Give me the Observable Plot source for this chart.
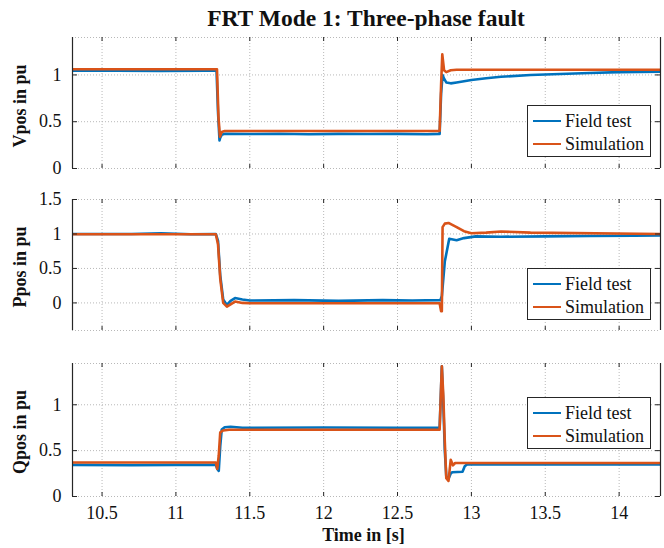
<!DOCTYPE html>
<html><head><meta charset="utf-8">
<script src="https://cdn.jsdelivr.net/npm/d3@7"></script>
<script src="https://cdn.jsdelivr.net/npm/@observablehq/plot@0.6"></script>
<style>
body{margin:0;background:#fff;}
#wrap{position:relative;width:664px;height:548px;font-family:"Liberation Serif",serif;color:#111;}
#title{position:absolute;left:68px;right:0;top:0;height:36px;line-height:37px;text-align:center;font-weight:bold;font-size:23.5px;font-family:"Liberation Serif",serif;}
.panel{position:absolute;left:0;}
.panel svg{overflow:visible;}
.panel svg, .panel svg text{font-family:"Liberation Serif",serif !important;}
.legend{position:absolute;left:527px;width:122px;height:50px;border:1px solid #262626;background:#fff;font-size:18px;font-family:"Liberation Serif",serif;}
.legend .row{position:absolute;left:0;height:22px;display:flex;align-items:center;}
.legend .sw{width:28px;height:2.5px;margin-left:5px;margin-right:4px;}
</style></head>
<body><div id="wrap"><div id="title">FRT Mode 1: Three-phase fault</div></div>
<script>
// ---- data ----
const xTicks = [10.5, 11, 11.5, 12, 12.5, 13, 13.5, 14];
const xDomain = [10.3, 14.28];
const seriesNames = ["Field test", "Simulation"];
const seriesColors = ["#0072BD", "#D95319"];

// Panel 1: Vpos
const vTicks = [0, 0.5, 1];
const vDomain = [0, 1.4];
const vFieldT = [10.3, 10.6, 10.9, 11.2, 11.275, 11.285, 11.295, 11.3, 11.31, 11.33, 11.5, 11.7, 11.9, 12.1, 12.3, 12.5, 12.7, 12.785, 12.795, 12.805, 12.815, 12.83, 12.86, 12.9, 13.0, 13.1, 13.2, 13.4, 13.6, 13.8, 14.0, 14.28];
const vFieldV = [1.045, 1.045, 1.043, 1.045, 1.045, 0.6, 0.30, 0.33, 0.36, 0.37, 0.368, 0.372, 0.366, 0.37, 0.368, 0.37, 0.366, 0.37, 0.8, 1.0, 0.96, 0.92, 0.91, 0.92, 0.945, 0.965, 0.98, 1.0, 1.01, 1.02, 1.03, 1.035];
const vSimT = [10.3, 11.278, 11.288, 11.298, 11.31, 11.33, 12.785, 12.795, 12.803, 12.815, 12.83, 12.86, 12.9, 14.28];
const vSimV = [1.06, 1.06, 0.55, 0.34, 0.39, 0.40, 0.40, 0.9, 1.22, 1.05, 1.03, 1.05, 1.055, 1.055];

// Panel 2: Ppos
const pTicks = [0, 0.5, 1, 1.5];
const pDomain = [-0.4, 1.5];
const pFieldT = [10.3, 10.7, 10.9, 11.1, 11.27, 11.285, 11.3, 11.32, 11.345, 11.37, 11.4, 11.45, 11.5, 11.8, 12.1, 12.4, 12.6, 12.79, 12.8, 12.82, 12.85, 12.9, 12.95, 13.03, 13.2, 13.5, 13.8, 14.1, 14.28];
const pFieldV = [1.0, 1.0, 1.01, 0.995, 1.0, 0.9, 0.4, 0.05, -0.03, 0.03, 0.07, 0.05, 0.035, 0.04, 0.03, 0.04, 0.035, 0.04, 0.1, 0.6, 0.93, 0.91, 0.94, 0.965, 0.96, 0.965, 0.97, 0.975, 0.98];
const pSimT = [10.3, 11.27, 11.285, 11.3, 11.32, 11.345, 11.37, 11.4, 11.45, 11.5, 12.785, 12.795, 12.8, 12.805, 12.82, 12.845, 12.9, 12.95, 13.0, 13.1, 13.2, 13.4, 14.28];
const pSimV = [0.995, 0.995, 0.85, 0.35, 0.0, -0.055, -0.02, 0.02, 0.0, -0.005, -0.005, -0.12, -0.12, 1.10, 1.15, 1.16, 1.10, 1.04, 1.01, 1.02, 1.035, 1.02, 1.0];

// Panel 3: Qpos
const qTicks = [0, 0.5, 1];
const qDomain = [0, 1.45];
const qFieldT = [10.3, 10.7, 11.0, 11.27, 11.28, 11.29, 11.3, 11.31, 11.33, 11.37, 11.45, 12.0, 12.5, 12.785, 12.795, 12.8, 12.81, 12.82, 12.83, 12.845, 12.86, 12.87, 12.94, 12.955, 12.97, 14.28];
const qFieldV = [0.345, 0.34, 0.345, 0.345, 0.30, 0.28, 0.55, 0.73, 0.755, 0.76, 0.75, 0.752, 0.75, 0.75, 1.2, 1.42, 1.0, 0.5, 0.22, 0.19, 0.25, 0.265, 0.27, 0.33, 0.35, 0.35];
const qSimT = [10.3, 11.27, 11.28, 11.29, 11.3, 11.32, 11.36, 11.5, 12.785, 12.795, 12.8, 12.81, 12.82, 12.83, 12.845, 12.86, 12.875, 12.89, 14.28];
const qSimV = [0.37, 0.37, 0.30, 0.45, 0.70, 0.72, 0.728, 0.728, 0.728, 1.2, 1.42, 1.1, 0.6, 0.2, 0.17, 0.40, 0.34, 0.365, 0.365];

// ---- drawing ----
const W = 664, ML = 72, MR = 4;
const FONT = '"Liberation Serif", serif';
const wrap = document.getElementById("wrap");
const rows = (ts, vs) => ts.map((t, i) => ({t, v: vs[i]}));
const fmt = d => String(d);

function panel({top, height, mt, mb, yDomain, yTicks, yLabel, field, sim, showX, legendTop, labelDy}) {
  const PW = W - ML - MR, PH = height - mt - mb;
  const grid = {stroke: "#b8b8b8", strokeOpacity: 1, strokeDasharray: "1,2"};
  const marks = [
    Plot.gridX(xTicks, grid),
    Plot.gridY(yTicks, grid),
    Plot.ruleY([yDomain[1]], grid),
    Plot.ruleY([yDomain[0]], grid),
    Plot.line(field, {x: "t", y: "v", stroke: seriesColors[0], strokeWidth: 2.6, clip: true}),
    Plot.line(sim, {x: "t", y: "v", stroke: seriesColors[1], strokeWidth: 2.6, clip: true}),
    Plot.ruleX([xDomain[0]], {stroke: "#262626", strokeWidth: 1.2}),
    Plot.ruleX([xDomain[1]], {stroke: "#262626", strokeWidth: 1.2}),
    Plot.tickY(yTicks, {y: d => d, insetRight: PW - 5, stroke: "#262626"}),
    Plot.tickY(yTicks, {y: d => d, insetLeft: PW - 5, stroke: "#262626"}),
    Plot.tickX(xTicks, {x: d => d, insetTop: PH - 4, stroke: "#262626"}),
    Plot.tickX(xTicks, {x: d => d, insetBottom: PH - 4, stroke: "#262626"}),
    Plot.text([yLabel], {text: d => d, frameAnchor: "left", textAnchor: "middle", lineAnchor: "middle", dx: -52, dy: labelDy, rotate: -90, fontWeight: "bold", fontSize: 18, fill: "#111", fontFamily: FONT})
  ];
  if (showX) marks.push(Plot.text(["Time in [s]"], {text: d => d, frameAnchor: "bottom", dx: -3, dy: 44, fontWeight: "bold", fontSize: 18, fill: "#111", fontFamily: FONT}));
  const chart = Plot.plot({
    width: W, height, marginLeft: ML, marginRight: MR, marginTop: mt, marginBottom: mb,
    style: {fontFamily: FONT, fontSize: "18px", color: "#111", background: "#fff", overflow: "visible"},
    x: {domain: xDomain, ticks: xTicks, tickSize: 0, tickPadding: 10, tickFormat: fmt, label: null, axis: showX ? "bottom" : null},
    y: {domain: yDomain, ticks: yTicks, tickSize: 0, tickPadding: 11, tickFormat: fmt, label: null},
    marks
  });
  const div = document.createElement("div");
  div.className = "panel";
  div.style.top = top + "px";
  div.appendChild(chart);
  wrap.appendChild(div);
  const lg = document.createElement("div");
  lg.className = "legend";
  lg.style.top = legendTop + "px";
  seriesNames.forEach((n, i) => {
    const r = document.createElement("div");
    r.className = "row";
    r.style.top = (4 + i * 23) + "px";
    r.innerHTML = `<span class="sw" style="background:${seriesColors[i]}"></span><span>${n}</span>`;
    lg.appendChild(r);
  });
  wrap.appendChild(lg);
}

panel({top: 30, height: 155, mt: 7, mb: 17, yDomain: vDomain, yTicks: vTicks, yLabel: "Vpos in pu",
  field: rows(vFieldT, vFieldV), sim: rows(vSimT, vSimV), showX: false, legendTop: 105, labelDy: 3});
panel({top: 185, height: 160, mt: 14, mb: 15, yDomain: pDomain, yTicks: pTicks, yLabel: "Ppos in pu",
  field: rows(pFieldT, pFieldV), sim: rows(pSimT, pSimV), showX: false, legendTop: 268, labelDy: 2});
panel({top: 345, height: 203, mt: 18, mb: 52, yDomain: qDomain, yTicks: qTicks, yLabel: "Qpos in pu",
  field: rows(qFieldT, qFieldV), sim: rows(qSimT, qSimV), showX: true, legendTop: 397, labelDy: 2});
</script></body></html>
